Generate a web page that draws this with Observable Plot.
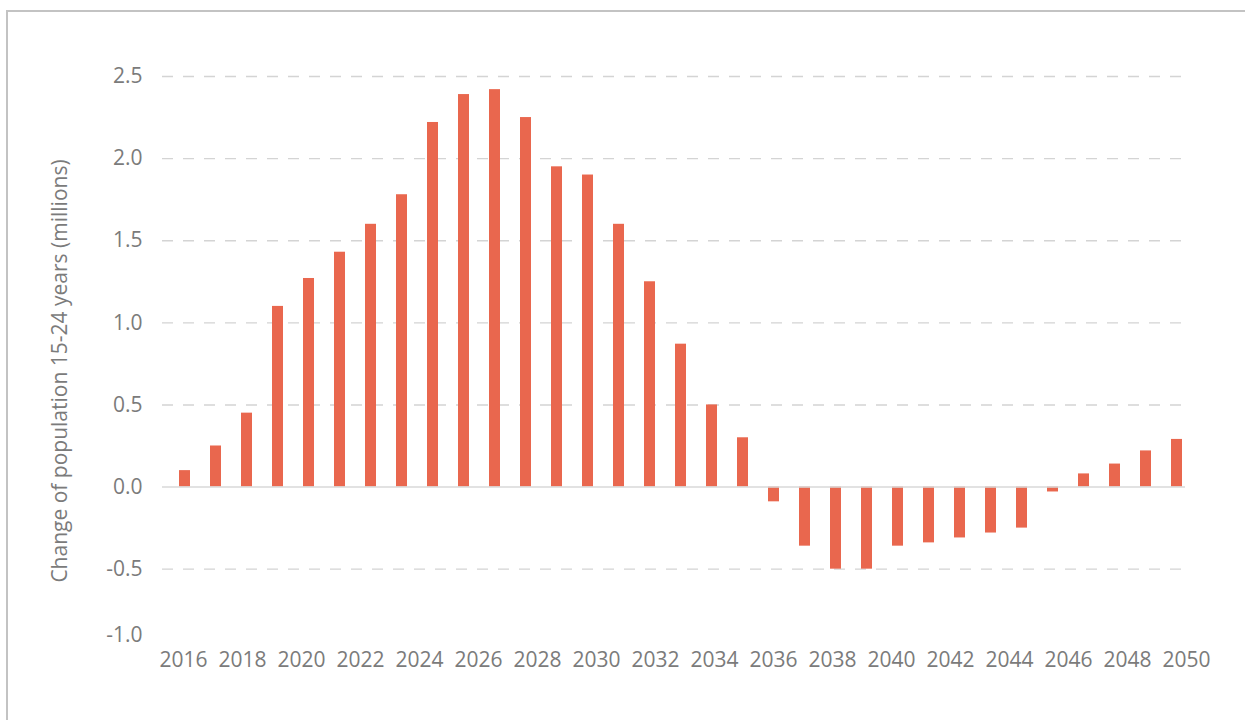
<!DOCTYPE html>
<html>
<head>
<meta charset="utf-8">
<script src="https://cdn.jsdelivr.net/npm/d3@7"></script>
<script src="https://cdn.jsdelivr.net/npm/@observablehq/plot@0.6"></script>
<style>
  html, body { margin: 0; padding: 0; background: #fff; overflow: hidden; }
  #wrap { position: relative; width: 1245px; height: 720px; overflow: hidden; }
  #border { position: absolute; left: 6px; top: 10px; width: 1400px; height: 900px;
            border-left: 2px solid #c3c3c3; border-top: 2px solid #c3c3c3; }
  #wrap svg { position: absolute; left: 0; top: 0; }
</style>
</head>
<body>
<div id="wrap"><div id="border"></div></div>
<script>
// Bar categories (one bar per year slot)
const years = [2016, 2017, 2018, 2019, 2020, 2021, 2022, 2023, 2024, 2025, 2026,
  2027, 2028, 2029, 2030, 2031, 2032, 2033, 2034, 2035, 2036, 2037, 2038,
  2039, 2040, 2041, 2042, 2043, 2044, 2045, 2046, 2047, 2048];
// Change of population 15-24 years (millions)
const changes = [0.10, 0.25, 0.45, 1.10, 1.27, 1.43, 1.60, 1.78, 2.22, 2.39, 2.42,
  2.25, 1.95, 1.90, 1.60, 1.25, 0.87, 0.50, 0.30, -0.09, -0.36, -0.50, -0.50,
  -0.36, -0.34, -0.31, -0.28, -0.25, -0.03, 0.08, 0.14, 0.22, 0.29];
// Axis tick labels
const xTickLabels = ["2016", "2018", "2020", "2022", "2024", "2026", "2028", "2030",
  "2032", "2034", "2036", "2038", "2040", "2042", "2044", "2046", "2048", "2050"];
const yTicks = [-0.904, -0.5, 0, 0.5, 1.0, 1.5, 2.0, 2.5];
const yTickLabels = ["-1.0", "-0.5", "0.0", "0.5", "1.0", "1.5", "2.0", "2.5"];
const gridValues = [-0.5, 0.5, 1.0, 1.5, 2.0, 2.5];
const yTitle = "Change of population 15-24 years (millions)";

const data = years.map((year, i) => ({year, value: changes[i]}));
const textColor = "#7b7b7b";
const font = "'Open Sans', 'Noto Sans', sans-serif";
const fs = 21;

const main = Plot.plot({
  width: 1245,
  height: 720,
  marginTop: 76,
  marginBottom: 85,
  marginLeft: 169,
  marginRight: 53,
  style: {fontFamily: font, fontSize: fs + "px", color: textColor, background: "transparent"},
  x: {type: "band", domain: years, paddingInner: 0.645, paddingOuter: 0.3225, axis: null},
  y: {domain: [-0.904, 2.5], axis: null},
  marks: [
    Plot.ruleY(gridValues, {stroke: "#d4d4d4", strokeWidth: 1.4, strokeDasharray: "11,10",
      insetLeft: -7, insetRight: 7}),
    Plot.barY(data, {x: "year", y: "value", fill: "#E9674E"}),
    Plot.ruleY([0], {stroke: "#d9d9d9", strokeWidth: 1.5, insetLeft: -7, insetRight: 7}),
    Plot.axisY({ticks: yTicks, tickFormat: (d, i) => yTickLabels[i], tickSize: 0,
      tickPadding: 27, fill: textColor, fontSize: fs, label: null}),
    Plot.text([yTitle], {text: d => d, frameAnchor: "left", rotate: -90, dx: -109, dy: 15,
      textAnchor: "middle", lineAnchor: "middle", fill: textColor, fontSize: fs})
  ]
});

const labels = Plot.plot({
  width: 1245,
  height: 720,
  marginTop: 76,
  marginBottom: 60,
  marginLeft: 179,
  marginRight: 54.5,
  style: {fontFamily: font, fontSize: fs + "px", color: textColor, background: "transparent"},
  x: {type: "point", domain: xTickLabels, padding: 0, axis: null},
  marks: [
    Plot.text(xTickLabels, {x: d => d, text: d => d, frameAnchor: "bottom",
      lineAnchor: "middle", fill: textColor, fontSize: fs})
  ]
});
labels.style.pointerEvents = "none";

const wrap = document.getElementById("wrap");
wrap.appendChild(main);
wrap.appendChild(labels);
</script>
</body>
</html>
